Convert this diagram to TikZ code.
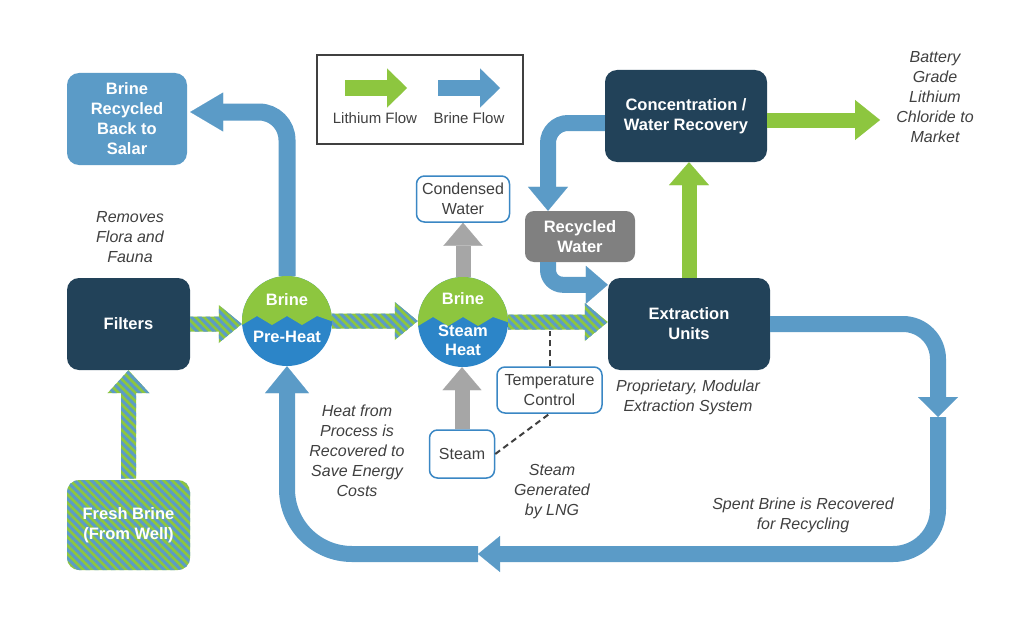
\documentclass[tikz,border=0pt]{standalone}
\usepackage{fontspec}
\setmainfont{Liberation Sans}
\usetikzlibrary{calc,arrows.meta,patterns.meta}
\definecolor{navyc}{RGB}{34,66,89}
\definecolor{bblue}{RGB}{91,155,199}
\definecolor{cblue}{RGB}{44,133,200}
\definecolor{lgreen}{RGB}{141,198,63}
\definecolor{gry}{RGB}{166,166,166}
\definecolor{rgry}{RGB}{128,128,128}
\definecolor{bord}{RGB}{58,135,196}
\definecolor{tgrey}{RGB}{64,64,64}
\newcommand\hatchR[2]{\path[hatchfill] let \p1=(#1), \p2=(#2) in
  (\x1,\y1-7.5pt) -- (\x2-23pt,\y1-7.5pt) -- (\x2-23pt,\y1-19pt) -- (\x2,\y1)
  -- (\x2-23pt,\y1+19pt) -- (\x2-23pt,\y1+7.5pt) -- (\x1,\y1+7.5pt) -- cycle;}
\newcommand\hatchU[2]{\path[hatchfill] let \p1=(#1), \p2=(#2) in
  (\x1-7.5pt,\y1) -- (\x1-7.5pt,\y2-23pt) -- (\x1-21pt,\y2-23pt) -- (\x1,\y2)
  -- (\x1+21pt,\y2-23pt) -- (\x1+7.5pt,\y2-23pt) -- (\x1+7.5pt,\y1) -- cycle;}
\begin{document}
\begin{tikzpicture}[x=1pt,y=-1pt,
  boldlbl/.style={font=\bfseries\fontsize{16.5}{20}\selectfont, align=center, inner sep=0pt},
  navybox/.style={boldlbl, rectangle, rounded corners=12pt, fill=navyc, text=white},
  lbluebox/.style={boldlbl, rectangle, rounded corners=12pt, fill=bblue, text=white},
  greybox/.style={boldlbl, rectangle, rounded corners=9pt, fill=rgry, text=white},
  hatchfill/.style={preaction={fill=lgreen}, pattern={Lines[angle=-45,distance=6pt,line width=3pt]}, pattern color=bblue},
  hatchbox/.style={boldlbl, rectangle, rounded corners=12pt, hatchfill, text=white},
  wbox/.style={rectangle, rounded corners=8pt, draw=bord, line width=1.5pt, fill=white, text=tgrey,
    font=\fontsize{16}{20}\selectfont, align=center, inner sep=0pt},
  note/.style={text=tgrey, font=\itshape\fontsize{16}{20}\selectfont, align=center, inner sep=0pt},
  lgtext/.style={text=tgrey, font=\fontsize{15}{18}\selectfont, inner sep=0pt},
  ctext/.style={text=white, font=\bfseries\fontsize{16.5}{19}\selectfont, align=center, inner sep=0pt},
  zig/.style={circle, minimum size=90pt, inner sep=0pt, fill=cblue,
    path picture={\fill[lgreen] ([shift={(-50,-50)}]path picture bounding box.center)
      -- ++(100,0) -- ++(0,52) -- ++(-20,-7) -- ++(-15,9) -- ++(-15,-9) -- ++(-15,9)
      -- ++(-15,-9) -- ++(-15,9) -- ++(-20,7) -- cycle;}},
  bflow/.style={draw=bblue, line width=16pt, -{Triangle[width=40pt,length=24pt,line width=0.1pt]}},
  gflow/.style={draw=lgreen, line width=15pt, -{Triangle[width=40pt,length=23pt,line width=0.1pt]}},
  gyflow/.style={draw=gry, line width=15pt, -{Triangle[width=39pt,length=23pt,line width=0.1pt]}},
  dashln/.style={draw=tgrey, line width=2pt, dash pattern=on 6pt off 4pt}
]
\fill[white] (0,0) rectangle (1020,618);

% legend
\node[draw=tgrey, line width=1.5pt, minimum width=206pt, minimum height=89pt, inner sep=0pt] (legend) at (420,99.5) {};
\coordinate (lga) at (345,88); \coordinate (lgb) at (407,88);
\coordinate (lgc) at (438,88); \coordinate (lgd) at (500,88);
\draw[gflow, -{Triangle[width=39pt,length=20pt,line width=0.1pt]}] (lga) -- (lgb);
\draw[bflow, line width=15pt, -{Triangle[width=39pt,length=20pt,line width=0.1pt]}] (lgc) -- (lgd);
\node[lgtext] (lgt1) at (375,118) {Lithium Flow};
\node[lgtext] (lgt2) at (469,118) {Brine Flow};

% boxes
\node[lbluebox, minimum width=120pt, minimum height=92pt] (recyc) at (127,119) {Brine\\Recycled\\Back to\\Salar};
\node[navybox, minimum width=123pt, minimum height=92pt] (filt) at (128.5,324) {Filters};
\node[hatchbox, minimum width=123pt, minimum height=90pt] (fresh) at (128.5,525) {Fresh Brine\\(From Well)};
\node[zig] (preheat) at (287,321) {};
\node[zig] (steamh) at (463,322) {};
\node[wbox, minimum width=93pt, minimum height=46pt] (cond) at (463,199) {Condensed\\Water};
\node[wbox, minimum width=65pt, minimum height=48pt] (steam) at (462,454) {Steam};
\node[wbox, minimum width=105pt, minimum height=46pt] (temp) at (549.5,390) {Temperature\\Control};
\node[navybox, minimum width=162pt, minimum height=92pt] (extr) at (689,324) {Extraction\\Units};
\node[navybox, minimum width=162pt, minimum height=92pt] (conc) at (686,116) {Concentration /\\Water Recovery};
\node[greybox, minimum width=110pt, minimum height=51pt] (recw) at (580,236.5) {Recycled\\Water};

% circle texts
\node[ctext] (ph1) at ($(preheat.center)+(0,-21)$) {Brine};
\node[ctext] (ph2) at ($(preheat.center)+(0,16)$) {Pre-Heat};
\node[ctext] (sh1) at ($(steamh.center)+(0,-23)$) {Brine};
\node[ctext] (sh2) at ($(steamh.center)+(0,18)$) {Steam\\Heat};

% lithium (hatched) flow
\hatchU{fresh.north}{filt.south}
\hatchR{filt.east}{preheat.west}
\hatchR{preheat.east}{steamh.west}
\hatchR{steamh.east}{extr.west}

% brine flows
\draw[bflow, line width=17pt, rounded corners=28pt, -{Triangle[width=39pt,length=33pt,line width=0.1pt]}]
  (preheat.north) |- ($(recyc.east)+(3,-7)$);
\draw[bflow, rounded corners=20pt] ($(conc.west)+(0,7)$) -| ($(recw.north)+(-32,0)$);
\draw[bflow, rounded corners=15pt, -{Triangle[width=38pt,length=22pt,line width=0.1pt]}]
  ($(recw.south)+(-32,0)$) |- ($(extr.north west)+(0,7)$);
\coordinate (sb1) at (938,417);
\coordinate (sb2) at (478,554);
\draw[bflow, rounded corners=35pt, -{Triangle[width=40pt,length=20pt,line width=0.1pt]}] (extr.east) -| (sb1);
\draw[bflow, rounded corners=45pt, -{Triangle[width=36pt,length=22pt,line width=0.1pt]}] (sb1) |- (sb2);
\draw[bflow, rounded corners=65pt, -{Triangle[width=44pt,length=27pt,line width=0.1pt]}] (sb2) -| (preheat.south);

% lithium (green) flows
\draw[gflow] (extr.north) -- (extr.north |- conc.south);
\coordinate (mkt) at (880,120);
\draw[gflow, -{Triangle[width=40pt,length=25pt,line width=0.1pt]}] ($(conc.east)+(0,4)$) -- (mkt);

% steam / water
\draw[gyflow] (steamh.north) -- (steamh.north |- cond.south);
\draw[gyflow] (steam.north) -- (steam.north |- steamh.south);

% dashed control lines
\draw[dashln] (steam.east) -- (temp.south);
\coordinate (dtop) at (temp.north |- 0,331);
\draw[dashln] (temp.north) -- (dtop);

% notes
\node[note] (n1) at (130,237) {Removes\\Flora and\\Fauna};
\node[note] (n2) at (357,451) {Heat from\\Process is\\Recovered to\\Save Energy\\Costs};
\node[note] (n3) at (552,492) {Steam\\Generated\\by LNG};
\node[note] (n4) at (688,397) {Proprietary, Modular\\Extraction System};
\node[note] (n5) at (803,515) {Spent Brine is Recovered\\for Recycling};
\node[note] (n6) at (935,97) {Battery\\Grade\\Lithium\\Chloride to\\Market};
\end{tikzpicture}
\end{document}
